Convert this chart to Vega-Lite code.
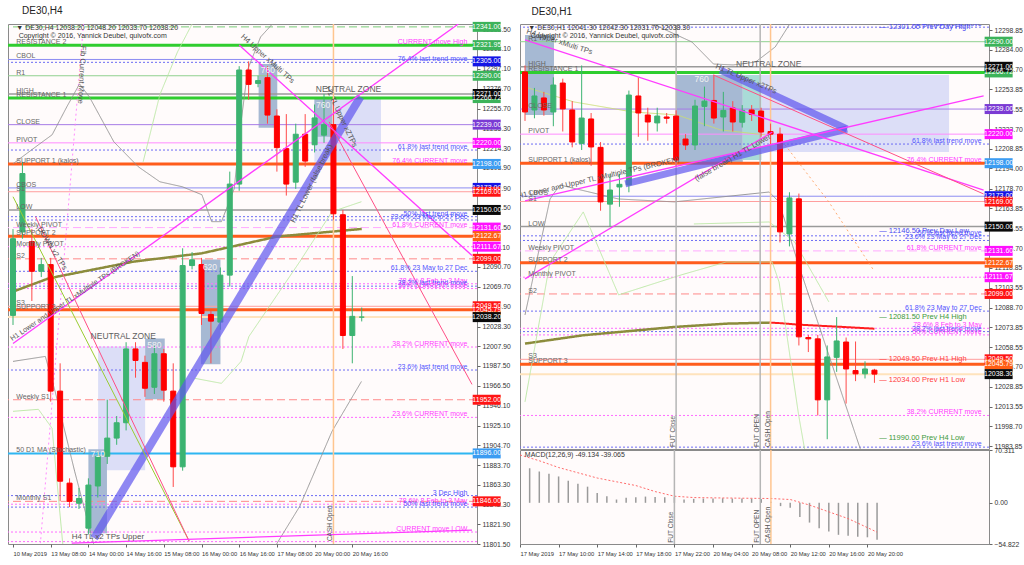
{
"$schema":"https://vega.github.io/schema/vega-lite/v6.json",
"background":"#ffffff",
"padding":{"left":7,"top":5,"right":0,"bottom":0},
"bounds":"flush",
"spacing":43,
"resolve":{"scale":{"color":"independent"}},
"config":{
 "view":{"stroke":"#8a8a8a","fill":"#fffbfb","strokeWidth":1},
 "font":"Liberation Sans",
 "axis":{"labelFont":"Liberation Sans"},
 "title":{"font":"Liberation Sans"},
 "text":{"font":"Liberation Sans"}
},
"datasets":{
 "c4":[
  {"x":0,"o":12040,"h":12130,"l":12030,"c":12120},
  {"x":1,"o":12127,"h":12200,"l":12120,"c":12188},
  {"x":2,"o":12117,"h":12130,"l":12055,"c":12086},
  {"x":3,"o":12086,"h":12100,"l":12080,"c":12093},
  {"x":4,"o":12093,"h":12100,"l":11950,"c":11961},
  {"x":5,"o":11961,"h":11990,"l":11846,"c":11867},
  {"x":6,"o":11865,"h":11870,"l":11840,"c":11846},
  {"x":7,"o":11844,"h":11860,"l":11838,"c":11849},
  {"x":8,"o":11818,"h":11870,"l":11812,"c":11863},
  {"x":9,"o":11862,"h":11898,"l":11850,"c":11893},
  {"x":10,"o":11893,"h":11952,"l":11885,"c":11912},
  {"x":11,"o":11912,"h":11935,"l":11905,"c":11928},
  {"x":12,"o":11928,"h":12012,"l":11920,"c":12005},
  {"x":13,"o":12005,"h":12012,"l":11975,"c":11993},
  {"x":14,"o":11991,"h":11998,"l":11955,"c":11964},
  {"x":15,"o":11965,"h":12008,"l":11958,"c":12000},
  {"x":16,"o":12000,"h":12005,"l":11950,"c":11962},
  {"x":17,"o":11961,"h":11990,"l":11861,"c":11882},
  {"x":18,"o":11882,"h":12110,"l":11878,"c":12092},
  {"x":19,"o":12092,"h":12106,"l":12088,"c":12098},
  {"x":20,"o":12093,"h":12100,"l":12030,"c":12042},
  {"x":21,"o":12041,"h":12045,"l":11990,"c":12034},
  {"x":22,"o":12033,"h":12090,"l":12025,"c":12082},
  {"x":23,"o":12082,"h":12190,"l":12070,"c":12177},
  {"x":24,"o":12177,"h":12300,"l":12170,"c":12296},
  {"x":25,"o":12296,"h":12305,"l":12265,"c":12281},
  {"x":26,"o":12282,"h":12290,"l":12278,"c":12285},
  {"x":27,"o":12288,"h":12300,"l":12240,"c":12249},
  {"x":28,"o":12248,"h":12255,"l":12190,"c":12215},
  {"x":29,"o":12214,"h":12250,"l":12165,"c":12177},
  {"x":30,"o":12179,"h":12240,"l":12172,"c":12229},
  {"x":31,"o":12229,"h":12250,"l":12195,"c":12201},
  {"x":32,"o":12218,"h":12260,"l":12210,"c":12246},
  {"x":33,"o":12228,"h":12271,"l":12220,"c":12239},
  {"x":34,"o":12239,"h":12265,"l":12140,"c":12146},
  {"x":35,"o":12145,"h":12150,"l":12005,"c":12019},
  {"x":36,"o":12019,"h":12081,"l":11990,"c":12039},
  {"x":37,"o":12038.2,"h":12048.2,"l":12033.7,"c":12038.2}
 ],
 "c1":[
  {"x":0,"o":12267.1,"h":12272,"l":12230,"c":12236.8},
  {"x":1,"o":12238.3,"h":12255,"l":12232,"c":12248.9},
  {"x":2,"o":12247.4,"h":12252,"l":12234,"c":12238.3},
  {"x":3,"o":12236.8,"h":12263,"l":12226,"c":12257.2},
  {"x":4,"o":12258.7,"h":12262,"l":12222,"c":12239.1},
  {"x":5,"o":12238.3,"h":12245,"l":12210,"c":12214.1},
  {"x":6,"o":12213,"h":12272,"l":12208,"c":12232.2},
  {"x":7,"o":12231.5,"h":12236,"l":12196,"c":12210.3},
  {"x":8,"o":12210,"h":12214,"l":12162,"c":12168.7},
  {"x":9,"o":12167,"h":12190,"l":12150,"c":12177.7},
  {"x":10,"o":12180,"h":12190,"l":12165,"c":12182},
  {"x":11,"o":12181.5,"h":12253,"l":12176,"c":12249.6},
  {"x":12,"o":12248.9,"h":12263,"l":12218,"c":12236},
  {"x":13,"o":12234.5,"h":12240,"l":12215,"c":12229.2},
  {"x":14,"o":12228.5,"h":12240,"l":12222,"c":12233.7},
  {"x":15,"o":12233,"h":12236,"l":12228,"c":12232},
  {"x":16,"o":12233.7,"h":12238,"l":12196,"c":12200.4},
  {"x":17,"o":12216.3,"h":12220,"l":12208,"c":12211.8},
  {"x":18,"o":12211.8,"h":12246,"l":12208,"c":12241.3},
  {"x":19,"o":12241,"h":12256,"l":12226,"c":12245},
  {"x":20,"o":12245.5,"h":12265,"l":12228,"c":12232.2},
  {"x":21,"o":12233,"h":12252,"l":12222,"c":12238},
  {"x":22,"o":12239.8,"h":12245,"l":12222,"c":12229.2},
  {"x":23,"o":12229,"h":12242,"l":12225,"c":12238},
  {"x":24,"o":12238.3,"h":12242,"l":12230,"c":12235},
  {"x":25,"o":12237.5,"h":12240,"l":12218,"c":12221.6},
  {"x":26,"o":12222,"h":12228,"l":12212,"c":12220},
  {"x":27,"o":12220,"h":12225,"l":12138,"c":12146},
  {"x":28,"o":12144.4,"h":12176,"l":12135,"c":12171.7},
  {"x":29,"o":12171,"h":12175,"l":12060,"c":12066.5},
  {"x":30,"o":12066,"h":12068,"l":12055,"c":12065},
  {"x":31,"o":12065,"h":12068,"l":12007,"c":12018.8},
  {"x":32,"o":12018.8,"h":12060,"l":11989,"c":12051.3},
  {"x":33,"o":12051,"h":12081.5,"l":12040,"c":12063.4},
  {"x":34,"o":12062.6,"h":12066,"l":12016,"c":12042.2},
  {"x":35,"o":12041,"h":12063,"l":12033,"c":12038.5},
  {"x":36,"o":12038.5,"h":12048,"l":12035,"c":12042.2},
  {"x":37,"o":12041.3,"h":12042.3,"l":12031.7,"c":12038.3}
 ],
 "lv":[
  {"pan":"L","p":12341,"ls":"gdash"},
  {"pan":"L","p":12321.95,"ls":"res","name":"RESISTANCE 2","note":"CURRENT move High","nc":"m"},
  {"pan":"L","p":12307,"ls":"cb","name":"CBOL"},
  {"pan":"L","p":12304,"ls":"fb","note":"76.4% last trend move","nc":"b"},
  {"pan":"R","p":12301,"ls":"fb","note":"76.4% last trend move","nc":"b"},
  {"pan":"B","p":12290,"ls":"r1","name":"R1"},
  {"pan":"B","p":12271,"ls":"hl","name":"HIGH"},
  {"pan":"B","p":12266.72,"ls":"res","name":"RESISTANCE 1"},
  {"pan":"B","p":12239,"ls":"close","name":"CLOSE"},
  {"pan":"B","p":12220,"ls":"piv","name":"PIVOT"},
  {"pan":"B","p":12212.5,"ls":"fb","note":"61.8% last trend move","nc":"b"},
  {"pan":"B","p":12198,"ls":"sup","name":"SUPPORT 1 (kalos)","note":"76.4% CURRENT move","nc":"m"},
  {"pan":"B","p":12173,"ls":"cb","name":"CBOS"},
  {"pan":"B","p":12169,"ls":"s","name":"S1"},
  {"pan":"B","p":12150,"ls":"hl","name":"LOW"},
  {"pan":"B","p":12143,"ls":"fb","note":"50%   last trend move","nc":"b"},
  {"pan":"B","p":12139.5,"ls":"fb","note":"23.6%  23 May to 27 Dec","nc":"b"},
  {"pan":"B","p":12131.6,"ls":"wpiv","name":"Weekly PIVOT","note":"61.8% CURRENT move","nc":"m"},
  {"pan":"B","p":12122.67,"ls":"sup","name":"SUPPORT 2"},
  {"pan":"B","p":12111.67,"ls":"mpiv","name":"Monthly PIVOT"},
  {"pan":"B","p":12099,"ls":"sdash","name":"S2"},
  {"pan":"B","p":12086,"ls":"fb","note":"61.8%  23 May to 27 Dec","nc":"b"},
  {"pan":"B","p":12073,"ls":"fm","note":"78.6%  8 Feb to 3 May","nc":"m"},
  {"pan":"B","p":12070.5,"ls":"fb","note":"38.2% last trend move","nc":"b"},
  {"pan":"B","p":12068,"ls":"fm","note":"50%  CURRENT move","nc":"m"},
  {"pan":"B","p":12049.5,"ls":"s","name":"S3"},
  {"pan":"B","p":12045.79,"ls":"sup","name":"SUPPORT 3"},
  {"pan":"B","p":12038.25,"ls":"px"},
  {"pan":"B","p":12007,"ls":"fm","note":"38.2%  CURRENT move","nc":"m"},
  {"pan":"B","p":11983,"ls":"fb","note":"23.6% last trend move","nc":"b"},
  {"pan":"L","p":11952,"ls":"sdash","name":"Weekly S1"},
  {"pan":"L","p":11933.6,"ls":"fm","note":"23.6%  CURRENT move","nc":"m"},
  {"pan":"L","p":11896,"ls":"ma","name":"50 D1 MA (Stochastic)"},
  {"pan":"L","p":11852,"ls":"fb","note":"3 Dec High","nc":"b"},
  {"pan":"L","p":11846,"ls":"sdash","name":"Monthly S1"},
  {"pan":"L","p":11843,"ls":"fm","note":"78.6%  8 Feb to 3 May","nc":"m"},
  {"pan":"L","p":11840,"ls":"fb","note":"50%  last trend move","nc":"b"},
  {"pan":"L","p":11814,"ls":"fm","note":"CURRENT move LOW","nc":"m"},
  {"pan":"L","p":11804,"ls":"fm"}
 ],
 "tg":[
  {"pan":"L","p":12341,"tc":"g","t":"12341.00"},
  {"pan":"L","p":12321.95,"tc":"g","t":"12321.95"},
  {"pan":"L","p":12305,"tc":"db","t":"12305.00"},
  {"pan":"L","p":12290,"tc":"g","t":"12290.00"},
  {"pan":"L","p":12266.72,"tc":"g","t":"12266.72"},
  {"pan":"L","p":12271,"tc":"k","t":"12271.00"},
  {"pan":"L","p":12239,"tc":"pu","t":"12239.00"},
  {"pan":"L","p":12220,"tc":"mg","t":"12220.00"},
  {"pan":"L","p":12198,"tc":"lb","t":"12198.00"},
  {"pan":"L","p":12173,"tc":"db","t":"12173.00"},
  {"pan":"L","p":12169,"tc":"r","t":"12169.00"},
  {"pan":"L","p":12150,"tc":"k","t":"12150.00"},
  {"pan":"L","p":12131.6,"tc":"mg","t":"12131.60"},
  {"pan":"L","p":12122.67,"tc":"or","t":"12122.67"},
  {"pan":"L","p":12111.67,"tc":"mg","t":"12111.67"},
  {"pan":"L","p":12099,"tc":"r","t":"12099.00"},
  {"pan":"L","p":12045.79,"tc":"or","t":"12045.79"},
  {"pan":"L","p":12049.5,"tc":"r","t":"12049.50"},
  {"pan":"L","p":12038.2,"tc":"k","t":"12038.20"},
  {"pan":"L","p":11952,"tc":"r","t":"11952.00"},
  {"pan":"L","p":11896,"tc":"lb","t":"11896.00"},
  {"pan":"L","p":11846,"tc":"r","t":"11846.00"},
  {"pan":"R","p":12290,"tc":"g","t":"12290.00"},
  {"pan":"R","p":12266.72,"tc":"g","t":"12266.72"},
  {"pan":"R","p":12271,"tc":"k","t":"12271.00"},
  {"pan":"R","p":12239,"tc":"pu","t":"12239.00"},
  {"pan":"R","p":12220,"tc":"mg","t":"12220.00"},
  {"pan":"R","p":12198,"tc":"lb","t":"12198.00"},
  {"pan":"R","p":12173,"tc":"db","t":"12173.00"},
  {"pan":"R","p":12169,"tc":"r","t":"12169.00"},
  {"pan":"R","p":12150,"tc":"k","t":"12150.00"},
  {"pan":"R","p":12131.6,"tc":"mg","t":"12131.60"},
  {"pan":"R","p":12122.67,"tc":"or","t":"12122.67"},
  {"pan":"R","p":12111.67,"tc":"mg","t":"12111.67"},
  {"pan":"R","p":12099,"tc":"r","t":"12099.00"},
  {"pan":"R","p":12049.5,"tc":"r","t":"12049.50"},
  {"pan":"R","p":12045.79,"tc":"or","t":"12045.79"},
  {"pan":"R","p":12038.3,"tc":"k","t":"12038.30"}
 ],
 "bx":[
  {"pan":"L","x":9.03,"x2":14.02,"p":12007.6,"p2":11878.4,"k":"zone"},
  {"pan":"L","x":14.02,"x2":16.1,"p":12015.9,"p2":11952.4,"k":"blk"},
  {"pan":"L","x":8.0,"x2":9.97,"p":11900.3,"p2":11812.8,"k":"blk"},
  {"pan":"L","x":19.94,"x2":22.01,"p":12098.2,"p2":11988.9,"k":"blk"},
  {"pan":"L","x":26.06,"x2":28.04,"p":12302.3,"p2":12235.7,"k":"blk"},
  {"pan":"L","x":31.98,"x2":39.04,"p":12265.9,"p2":12200.3,"k":"zone"},
  {"pan":"L","x":31.98,"x2":33.85,"p":12265.9,"p2":12226.3,"k":"blk"},
  {"pan":"R","x":0,"x2":3.07,"p":12295.1,"p2":12234.5,"k":"blk"},
  {"pan":"R","x":25.03,"x2":44.9,"p":12264.8,"p2":12206.5,"k":"zone"},
  {"pan":"R","x":16.02,"x2":23.06,"p":12264.8,"p2":12198.9,"k":"blk"},
  {"pan":"R","x":23.06,"x2":25.03,"p":12264.8,"p2":12200.4,"k":"teal"}
 ],
 "bl":[
  {"pan":"L","x":27.05,"p":12296,"t":"760","bk":"num"},
  {"pan":"L","x":32.9,"p":12259.6,"t":"760","bk":"num"},
  {"pan":"L","x":20.9,"p":12091,"t":"620","bk":"num"},
  {"pan":"L","x":15.0,"p":12009,"t":"580","bk":"num"},
  {"pan":"L","x":9.0,"p":11895,"t":"710","bk":"num"},
  {"pan":"L","x":11.7,"p":12018,"t":"NEUTRAL ZONE","bk":"nz"},
  {"pan":"L","x":35.6,"p":12276,"t":"NEUTRAL ZONE","bk":"nz"},
  {"pan":"R","x":18.7,"p":12261.8,"t":"760","bk":"num"},
  {"pan":"R","x":25.8,"p":12273.1,"t":"NEUTRAL ZONE","bk":"nz"}
 ],
 "vl":[
  {"pan":"L","x":34,"vs":"cash"},
  {"pan":"R","x":16,"vs":"fut"},
  {"pan":"R","x":24.9,"vs":"fut"},
  {"pan":"R","x":26,"vs":"cash"}
 ],
 "ln":[
  {"pan":"L","id":"Lb","sty":"band","k":0,"x":8.62,"p":11807.6},
  {"pan":"L","id":"Lb","sty":"band","k":1,"x":36.86,"p":12268.0},
  {"pan":"L","id":"Lm1","sty":"mag","k":0,"x":0,"p":12010.7},
  {"pan":"L","id":"Lm1","sty":"mag","k":1,"x":47.25,"p":12344},
  {"pan":"L","id":"Lm2","sty":"mag","k":0,"x":23.99,"p":12322.1},
  {"pan":"L","id":"Lm2","sty":"mag","k":1,"x":48.7,"p":12102.4},
  {"pan":"L","id":"Lp1","sty":"pink","k":0,"x":33.54,"p":12241.9},
  {"pan":"L","id":"Lp1","sty":"pink","k":1,"x":48.7,"p":11968.0},
  {"pan":"L","id":"Lo1","sty":"olive","k":0,"x":0,"p":12163.8},
  {"pan":"L","id":"Lo1","sty":"olive","k":1,"x":18.69,"p":11804.5},
  {"pan":"L","id":"Lp2","sty":"pink","k":0,"x":2.39,"p":12143.0},
  {"pan":"L","id":"Lp2","sty":"pink","k":1,"x":18.69,"p":11804.5},
  {"pan":"L","id":"Lm3","sty":"mag","k":0,"x":6.23,"p":11802.4},
  {"pan":"L","id":"Lm3","sty":"mag","k":1,"x":48.7,"p":11816.0},
  {"pan":"L","id":"Lf","sty":"fibv","k":0,"x":7.48,"p":12344},
  {"pan":"L","id":"Lf","sty":"fibv","k":1,"x":2.91,"p":11802.4},
  {"pan":"L","id":"Lma","sty":"ma200","k":0,"x":0.03,"p":12064.9},
  {"pan":"L","id":"Lma","sty":"ma200","k":1,"x":3.8,"p":12078.7},
  {"pan":"L","id":"Lma","sty":"ma200","k":2,"x":12.8,"p":12096.1},
  {"pan":"L","id":"Lma","sty":"ma200","k":3,"x":20.04,"p":12104.8},
  {"pan":"L","id":"Lma","sty":"ma200","k":4,"x":28.0,"p":12122.2},
  {"pan":"L","id":"Lma","sty":"ma200","k":5,"x":37.0,"p":12130.2},
  {"pan":"L","id":"Lg1","sty":"thin","k":0,"x":0,"p":12198.2},
  {"pan":"L","id":"Lg1","sty":"thin","k":1,"x":2.7,"p":12218.0},
  {"pan":"L","id":"Lg1","sty":"thin","k":2,"x":4.15,"p":12228.4},
  {"pan":"L","id":"Lg1","sty":"thin","k":3,"x":5.71,"p":12257.6},
  {"pan":"L","id":"Lg1","sty":"thin","k":4,"x":7.06,"p":12281.5},
  {"pan":"L","id":"Lg1","sty":"thin","k":5,"x":8.1,"p":12268.0},
  {"pan":"L","id":"Lg1","sty":"thin","k":6,"x":10.7,"p":12221.1},
  {"pan":"L","id":"Lg1","sty":"thin","k":7,"x":13.29,"p":12195.1},
  {"pan":"L","id":"Lg1","sty":"thin","k":8,"x":15.58,"p":12179.4},
  {"pan":"L","id":"Lg1","sty":"thin","k":9,"x":17.96,"p":12174.2},
  {"pan":"L","id":"Lg1","sty":"thin","k":10,"x":20.04,"p":12165.9},
  {"pan":"L","id":"Lg1","sty":"thin","k":11,"x":21.08,"p":12137.8},
  {"pan":"L","id":"Lg1","sty":"thin","k":12,"x":22.12,"p":12137.8},
  {"pan":"L","id":"Lg1","sty":"thin","k":13,"x":23.47,"p":12172.1},
  {"pan":"L","id":"Lg1","sty":"thin","k":14,"x":24.2,"p":12241.9},
  {"pan":"L","id":"Lg1","sty":"thin","k":15,"x":24.92,"p":12297.1},
  {"pan":"L","id":"Lg1","sty":"thin","k":16,"x":26.27,"p":12330.5},
  {"pan":"L","id":"Lg1","sty":"thin","k":17,"x":27.52,"p":12344},
  {"pan":"L","id":"Lg2","sty":"thin","k":0,"x":0,"p":11992.0},
  {"pan":"L","id":"Lg2","sty":"thin","k":1,"x":3.43,"p":11997.2},
  {"pan":"L","id":"Lg2","sty":"thin","k":2,"x":4.47,"p":11960.7},
  {"pan":"L","id":"Lg2","sty":"thin","k":3,"x":6.54,"p":11877.4},
  {"pan":"L","id":"Lg2","sty":"thin","k":4,"x":8.62,"p":11799.3},
  {"pan":"L","id":"Lg3","sty":"thin","k":0,"x":27.83,"p":11799.3},
  {"pan":"L","id":"Lg3","sty":"thin","k":1,"x":30.43,"p":11840.9},
  {"pan":"L","id":"Lg3","sty":"thin","k":2,"x":33.85,"p":11919.1},
  {"pan":"L","id":"Lg3","sty":"thin","k":3,"x":36.97,"p":11971.1},
  {"pan":"L","id":"Lq1","sty":"lg","k":0,"x":19.31,"p":11974.3},
  {"pan":"L","id":"Lq1","sty":"lg","k":1,"x":22.12,"p":11969.1},
  {"pan":"L","id":"Lq1","sty":"lg","k":2,"x":24.2,"p":11992.0},
  {"pan":"L","id":"Lq1","sty":"lg","k":3,"x":25.03,"p":12018.0},
  {"pan":"L","id":"Lq1","sty":"lg","k":4,"x":30.43,"p":12096.1},
  {"pan":"L","id":"Lq1","sty":"lg","k":5,"x":33.85,"p":12148.2},
  {"pan":"L","id":"Lq1","sty":"lg","k":6,"x":36.97,"p":12158.6},
  {"pan":"L","id":"Lq2","sty":"lg","k":0,"x":0,"p":11939.9},
  {"pan":"L","id":"Lq2","sty":"lg","k":1,"x":2.7,"p":11942.0},
  {"pan":"L","id":"Lq2","sty":"lg","k":2,"x":4.15,"p":11922.2},
  {"pan":"L","id":"Lq2","sty":"lg","k":3,"x":5.3,"p":11799.3},
  {"pan":"L","id":"Lq3","sty":"lg","k":0,"x":13.81,"p":12200.3},
  {"pan":"L","id":"Lq3","sty":"lg","k":1,"x":15.58,"p":12270.1},
  {"pan":"L","id":"Lq3","sty":"lg","k":2,"x":17.45,"p":12314.8},
  {"pan":"L","id":"Lq3","sty":"lg","k":3,"x":19.0,"p":12344},
  {"pan":"R","id":"Rb1","sty":"band","k":0,"x":10.62,"p":12182.3},
  {"pan":"R","id":"Rb1","sty":"band","k":1,"x":34.1,"p":12223.9},
  {"pan":"R","id":"Rb2","sty":"band","k":0,"x":20.67,"p":12268.6},
  {"pan":"R","id":"Rb2","sty":"band","k":1,"x":34.1,"p":12223.9},
  {"pan":"R","id":"Rm1","sty":"mag","k":0,"x":0,"p":12291.3},
  {"pan":"R","id":"Rm1","sty":"mag","k":1,"x":48.56,"p":12177.7},
  {"pan":"R","id":"Rm2","sty":"mag","k":0,"x":0,"p":12169.4},
  {"pan":"R","id":"Rm2","sty":"mag","k":1,"x":48.56,"p":12248.9},
  {"pan":"R","id":"Rm3","sty":"mag","k":0,"x":0,"p":12110.4},
  {"pan":"R","id":"Rm3","sty":"mag","k":1,"x":26.2,"p":12221.6},
  {"pan":"R","id":"Rp1","sty":"pink","k":0,"x":19.95,"p":12264.8},
  {"pan":"R","id":"Rp1","sty":"pink","k":1,"x":48.56,"p":12174.7},
  {"pan":"R","id":"Rma","sty":"ma200","k":0,"x":0,"p":12061.4},
  {"pan":"R","id":"Rma","sty":"ma200","k":1,"x":6.15,"p":12067.7},
  {"pan":"R","id":"Rma","sty":"ma200","k":2,"x":15.82,"p":12074.0},
  {"pan":"R","id":"Rma","sty":"ma200","k":3,"x":21.3,"p":12076.5},
  {"pan":"R","id":"Rma","sty":"ma200","k":4,"x":25.9,"p":12077.3},
  {"pan":"R","id":"Rmr","sty":"ma200r","k":0,"x":25.9,"p":12077.3},
  {"pan":"R","id":"Rmr","sty":"ma200r","k":1,"x":26.8,"p":12077.0},
  {"pan":"R","id":"Rmr","sty":"ma200r","k":2,"x":28.9,"p":12075.8},
  {"pan":"R","id":"Rmr","sty":"ma200r","k":3,"x":33.7,"p":12074.0},
  {"pan":"R","id":"Rmr","sty":"ma200r","k":4,"x":37.0,"p":12072.7},
  {"pan":"R","id":"Rgu","sty":"thin","k":0,"x":13.53,"p":12303.4},
  {"pan":"R","id":"Rgu","sty":"thin","k":1,"x":17.67,"p":12289.8},
  {"pan":"R","id":"Rgu","sty":"thin","k":2,"x":19.96,"p":12273.1},
  {"pan":"R","id":"Rgu","sty":"thin","k":3,"x":22.03,"p":12272.4},
  {"pan":"R","id":"Rgu","sty":"thin","k":4,"x":24.41,"p":12274.6},
  {"pan":"R","id":"Rgu","sty":"thin","k":5,"x":26.49,"p":12286.0},
  {"pan":"R","id":"Rgu","sty":"thin","k":6,"x":28.03,"p":12303.4},
  {"pan":"R","id":"Rgl","sty":"thin","k":0,"x":0,"p":12083.1},
  {"pan":"R","id":"Rgl","sty":"thin","k":1,"x":2.65,"p":12170.9},
  {"pan":"R","id":"Rgl","sty":"thin","k":2,"x":3.69,"p":12181.5},
  {"pan":"R","id":"Rgl","sty":"thin","k":3,"x":9.91,"p":12170.9},
  {"pan":"R","id":"Rgl","sty":"thin","k":4,"x":15.8,"p":12168.7},
  {"pan":"R","id":"Rgl","sty":"thin","k":5,"x":25.86,"p":12176.2},
  {"pan":"R","id":"Rgl","sty":"thin","k":6,"x":26.89,"p":12168.7},
  {"pan":"R","id":"Rgl","sty":"thin","k":7,"x":28.97,"p":12121.0},
  {"pan":"R","id":"Rgl","sty":"thin","k":8,"x":35.5,"p":11981.7},
  {"pan":"R","id":"RqA","sty":"lg","k":0,"x":0,"p":12017.3},
  {"pan":"R","id":"RqA","sty":"lg","k":1,"x":2.65,"p":12123.2},
  {"pan":"R","id":"RqA","sty":"lg","k":2,"x":6.17,"p":12161.1},
  {"pan":"R","id":"RqA","sty":"lg","k":3,"x":9.91,"p":12098.3},
  {"pan":"R","id":"RqA","sty":"lg","k":4,"x":16.53,"p":12113.4},
  {"pan":"R","id":"RqA","sty":"lg","k":5,"x":21.3,"p":12123.2},
  {"pan":"R","id":"RqA","sty":"lg","k":6,"x":26.17,"p":12123.2},
  {"pan":"R","id":"RqA","sty":"lg","k":7,"x":26.9,"p":12108.1},
  {"pan":"R","id":"RqA","sty":"lg","k":8,"x":28.97,"p":12007.4},
  {"pan":"R","id":"RqA","sty":"lg","k":9,"x":29.6,"p":11981.7},
  {"pan":"R","id":"RqB","sty":"lg","k":0,"x":17.88,"p":12152.0},
  {"pan":"R","id":"RqB","sty":"lg","k":1,"x":25.86,"p":12153.5},
  {"pan":"R","id":"RqB","sty":"lg","k":2,"x":28.55,"p":12138.4},
  {"pan":"R","id":"RqB","sty":"lg","k":3,"x":32.17,"p":12093.0},
  {"pan":"R","id":"RqC","sty":"ma1","k":0,"x":0,"p":12255.7},
  {"pan":"R","id":"RqC","sty":"ma1","k":1,"x":5.18,"p":12244.4},
  {"pan":"R","id":"RqC","sty":"ma1","k":2,"x":11.39,"p":12236.8},
  {"pan":"R","id":"RqC","sty":"ma1","k":3,"x":16.14,"p":12234.5},
  {"pan":"R","id":"RqC","sty":"ma1","k":4,"x":20.7,"p":12223.2},
  {"pan":"R","id":"RqC","sty":"ma1","k":5,"x":25.46,"p":12219.4},
  {"pan":"R","id":"Rod","sty":"od","k":0,"x":26.89,"p":12217.9},
  {"pan":"R","id":"Rod","sty":"od","k":1,"x":32.17,"p":12168.7},
  {"pan":"R","id":"Rod","sty":"od","k":2,"x":36.83,"p":12117.9}
 ],
 "mc":[
  {"x":1,"h":46},{"x":2,"h":41.7},{"x":3,"h":38.6},{"x":4,"h":35.1},{"x":5,"h":29.4},
  {"x":6,"h":25.5},{"x":7,"h":21.5},{"x":8,"h":13.2},{"x":9,"h":8.8},{"x":10,"h":4.4},
  {"x":11,"h":6.6},{"x":12,"h":7.5},{"x":13,"h":8.3},{"x":14,"h":7.9},{"x":15,"h":7.5},
  {"x":16,"h":7.5},{"x":17,"h":4.4},{"x":18,"h":5.3},{"x":19,"h":5.7},{"x":20,"h":5.7},
  {"x":21,"h":6.1},{"x":22,"h":5.7},{"x":23,"h":5.7},{"x":24,"h":5.7},{"x":25,"h":5.0},
  {"x":26,"h":1.5},{"x":27,"h":-4.4},{"x":28,"h":-6.6},{"x":29,"h":-18.9},{"x":30,"h":-26.3},
  {"x":31,"h":-33.8},{"x":32,"h":-38.2},{"x":33,"h":-42.6},{"x":34,"h":-43.9},{"x":35,"h":-45.2},
  {"x":36,"h":-45.9},{"x":37,"h":-49.134}
 ],
 "sg":[
  {"x":0,"s":63.7},{"x":2,"s":56},{"x":4,"s":47},{"x":6,"s":40},{"x":8,"s":33},
  {"x":10,"s":28},{"x":12,"s":23},{"x":14,"s":15},{"x":16,"s":8.8},{"x":18,"s":7},
  {"x":20,"s":6.6},{"x":24,"s":6},{"x":26,"s":5.7},{"x":28,"s":4.4},{"x":30,"s":-3},
  {"x":32,"s":-12},{"x":34,"s":-21},{"x":36,"s":-33},{"x":37,"s":-39.065}
 ]
},
"hconcat":[
 {
  "width":469,"height":520,
  "title":{"text":"DE30,H4","anchor":"start","fontSize":10,"fontWeight":"normal","color":"#222","dx":14,"offset":6},
  "resolve":{"scale":{"color":"independent"}},
  "layer":[
   {"data":{"name":"bx"},"transform":[{"filter":"datum.pan=='L'"}],
    "mark":{"type":"rect","clip":true},
    "encoding":{
     "x":{"field":"x","type":"quantitative","title":null,"scale":{"domain":[0,48.7],"nice":false,"zero":false},
      "axis":{"orient":"bottom","values":[0,4,8,12,16,20,24,28,32,36],"tickCount":40,"labelExpr":"['10 May 2019','13 May 08:00','14 May 00:00','14 May 16:00','15 May 08:00','16 May 00:00','16 May 16:00','17 May 08:00','20 May 00:00','20 May 16:00'][round(datum.value/4)]","labelAlign":"left","labelBaseline":"top","labelFontSize":5.8,"labelColor":"#333","labelPadding":3,"tickSize":3,"tickColor":"#666","domain":false,"grid":false,"labelOverlap":false,"labelFlush":false,"title":null}},
     "x2":{"field":"x2"},
     "y":{"field":"p","type":"quantitative","title":null,"scale":{"domain":[11801.5,12344],"nice":false,"zero":false},
      "axis":{"orient":"right","values":[11801.5,11821.9,11842.3,11863.3,11883.7,11904.7,11925.1,11946.1,11966.5,11987.5,12007.9,12028.3,12048.9,12069.7,12090.7,12111.1,12131.5,12152.5,12172.9,12193.9,12214.3,12235.3,12255.7,12276.7,12297.1,12318.1,12338.5],"tickCount":60,"format":".2f","labelFontSize":6.8,"labelColor":"#333","labelPadding":2,"tickSize":3,"tickColor":"#666","domain":false,"grid":false,"labelOverlap":false,"title":null}},
     "y2":{"field":"p2"},
     "color":{"field":"k","type":"nominal","scale":{"domain":["zone","blk","teal"],"range":["#dcdef7","#a6b9d3","#a9dbd7"]},"legend":null}
    }},
   {"data":{"name":"lv"},"transform":[{"filter":"datum.pan!='R'"}],
    "mark":{"type":"rule","clip":true},
    "encoding":{
     "y":{"field":"p","type":"quantitative"},
     "color":{"field":"ls","type":"nominal","scale":{"domain":["res","r1","gdash","hl","cb","close","piv","sup","s","sdash","wpiv","mpiv","fb","fm","ma","px"],"range":["#2fcd2f","#8fd08f","#79cc79","#9a9a9a","#8c8cf2","#a77ce6","#ff8cff","#ff5c1c","#ff9e9e","#ff8a8a","#ffaaff","#ff70ff","#6c6cf4","#ff6cff","#2eb6f2","#ffe3bd"]},"legend":null},
     "strokeWidth":{"condition":[{"test":"datum.ls=='res' || datum.ls=='sup'","value":3},{"test":"datum.ls=='ma' || datum.ls=='px'","value":2},{"test":"datum.ls=='hl'","value":1.5}],"value":1},
     "strokeDash":{"condition":[{"test":"datum.ls=='gdash' || datum.ls=='sdash' || datum.ls=='wpiv'","value":[8,4]},{"test":"datum.ls=='mpiv' || datum.ls=='fb' || datum.ls=='fm'","value":[2,2]}],"value":[1,0]}
    }},
   {"data":{"name":"ln"},"transform":[{"filter":"datum.pan=='L' && datum.sty!='band' && datum.sty!='mag' && datum.sty!='pink' && datum.sty!='olive'"}],
    "mark":{"type":"line","clip":true},
    "encoding":{
     "x":{"field":"x","type":"quantitative"},
     "y":{"field":"p","type":"quantitative"},
     "color":{"field":"sty","type":"nominal","scale":{"domain":["fibv","ma200","ma200r","thin","lg","ma1","od"],"range":["#ff7cff","#8c8c3c","#ff1e1e","#8f8f8f","#b8e6a0","#c9dd70","#ffa060"]},"legend":null},
     "strokeWidth":{"condition":[{"test":"datum.sty=='ma200'","value":2.5},{"test":"datum.sty=='ma200r'","value":2}],"value":0.9},
     "strokeDash":{"condition":{"test":"datum.sty=='fibv' || datum.sty=='od'","value":[2,3]},"value":[1,0]},
     "detail":{"field":"id"},
     "order":{"field":"k","type":"quantitative"}
    }},
   {"data":{"name":"vl"},"transform":[{"filter":"datum.pan=='L'"}],
    "mark":{"type":"rule","strokeWidth":1.5},
    "encoding":{
     "x":{"field":"x","type":"quantitative"},
     "color":{"field":"vs","type":"nominal","scale":{"domain":["fut","cash"],"range":["#b5b5b5","#ffc58f"]},"legend":null}
    }},
   {"data":{"name":"c4"},
    "mark":{"type":"rule","clip":true},
    "encoding":{
     "x":{"field":"x","type":"quantitative"},
     "y":{"field":"l","type":"quantitative"},
     "y2":{"field":"h"},
     "color":{"condition":{"test":"datum.c >= datum.o","value":"#3cb371"},"value":"#ff4a4a"}
    }},
   {"data":{"name":"c4"},
    "mark":{"type":"bar","size":5,"clip":true,"strokeWidth":1},
    "encoding":{
     "x":{"field":"x","type":"quantitative"},
     "y":{"field":"o","type":"quantitative"},
     "y2":{"field":"c"},
     "fill":{"condition":{"test":"datum.c >= datum.o","value":"#3cb371"},"value":"#ff0000"},
     "stroke":{"condition":{"test":"datum.c >= datum.o","value":"#3cb371"},"value":"#ff0000"}
    }},
   {"data":{"name":"ln"},"transform":[{"filter":"datum.pan=='L' && (datum.sty=='band' || datum.sty=='mag' || datum.sty=='pink' || datum.sty=='olive')"}],
    "mark":{"type":"line","clip":true},
    "encoding":{
     "x":{"field":"x","type":"quantitative"},
     "y":{"field":"p","type":"quantitative"},
     "color":{"field":"sty","type":"nominal","scale":{"domain":["band","mag","pink","olive"],"range":["#5f55ee","#ff3cff","#ff4f86","#9acd32"]},"legend":null},
     "strokeWidth":{"condition":[{"test":"datum.sty=='band'","value":8},{"test":"datum.sty=='mag'","value":1.3}],"value":1},
     "opacity":{"condition":{"test":"datum.sty=='band'","value":0.7},"value":1},
     "detail":{"field":"id"},
     "order":{"field":"k","type":"quantitative"}
    }},
   {"data":{"name":"lv"},"transform":[{"filter":"datum.pan!='R' && isValid(datum.name)"}],
    "mark":{"type":"text","align":"left","baseline":"bottom","fontSize":7,"color":"#666","clip":true},
    "encoding":{
     "x":{"datum":0.35,"type":"quantitative"},
     "y":{"field":"p","type":"quantitative"},
     "text":{"field":"name"}
    }},
   {"data":{"name":"lv"},"transform":[{"filter":"datum.pan!='R' && isValid(datum.note)"}],
    "mark":{"type":"text","align":"right","baseline":"bottom","fontSize":7,"clip":true},
    "encoding":{
     "x":{"datum":48.2,"type":"quantitative"},
     "y":{"field":"p","type":"quantitative"},
     "text":{"field":"note"},
     "color":{"field":"nc","type":"nominal","scale":{"domain":["b","m"],"range":["#5252ff","#ff3cff"]},"legend":null}
    }},
   {"data":{"name":"bl"},"transform":[{"filter":"datum.pan=='L'"}],
    "mark":{"type":"text","fontSize":8.5,"baseline":"middle"},
    "encoding":{
     "x":{"field":"x","type":"quantitative"},
     "y":{"field":"p","type":"quantitative"},
     "text":{"field":"t"},
     "color":{"field":"bk","type":"nominal","scale":{"domain":["num","nz"],"range":["#f2f2f2","#5e5e5e"]},"legend":null}
    }},
   {"data":{"values":[{"x":27.0,"p":12307.5,"t":"H4 Upper xMulti TPs"}]},
    "mark":{"type":"text","angle":42,"fontSize":7.5,"color":"#555","clip":true},
    "encoding":{"x":{"field":"x","type":"quantitative"},"y":{"field":"p","type":"quantitative"},"text":{"field":"t"}}},
   {"data":{"values":[{"x":7.27,"p":12290.9,"t":"Fib Current Move"}]},
    "mark":{"type":"text","angle":93,"fontSize":7.5,"color":"#555","clip":true},
    "encoding":{"x":{"field":"x","type":"quantitative"},"y":{"field":"p","type":"quantitative"},"text":{"field":"t"}}},
   {"data":{"values":[{"x":34.8,"p":12247.1,"t":"H1 TL Upper xZTPs"}]},
    "mark":{"type":"text","angle":65,"fontSize":7.5,"color":"#555","clip":true},
    "encoding":{"x":{"field":"x","type":"quantitative"},"y":{"field":"p","type":"quantitative"},"text":{"field":"t"}}},
   {"data":{"values":[{"x":31.7,"p":12177.4,"t":"H1 TL Lower (false break)"}]},
    "mark":{"type":"text","angle":-64,"fontSize":7.5,"color":"#555","clip":true},
    "encoding":{"x":{"field":"x","type":"quantitative"},"y":{"field":"p","type":"quantitative"},"text":{"field":"t"}}},
   {"data":{"values":[{"x":6.6,"p":12060,"t":"H1 Lower and Upper TL xMultiple TPs (BROKEN)"}]},
    "mark":{"type":"text","angle":-34,"fontSize":7,"color":"#555","clip":true},
    "encoding":{"x":{"field":"x","type":"quantitative"},"y":{"field":"p","type":"quantitative"},"text":{"field":"t"}}},
   {"data":{"values":[{"x":4.15,"p":12109.7,"t":"DOWN x2 TPs"}]},
    "mark":{"type":"text","angle":58,"fontSize":7.5,"color":"#555","clip":true},
    "encoding":{"x":{"field":"x","type":"quantitative"},"y":{"field":"p","type":"quantitative"},"text":{"field":"t"}}},
   {"data":{"values":[{"x":34,"p":11804.5,"t":"CASH Open"}]},
    "mark":{"type":"text","angle":-90,"align":"left","baseline":"bottom","fontSize":6.5,"color":"#555","clip":true},
    "encoding":{"x":{"field":"x","type":"quantitative"},"y":{"field":"p","type":"quantitative"},"text":{"field":"t"}}},
   {"data":{"values":[{"x":6.23,"p":11808.7,"t":"H4 TL x2 TPs Upper"}]},
    "mark":{"type":"text","align":"left","baseline":"middle","fontSize":8,"color":"#555","clip":true},
    "encoding":{"x":{"field":"x","type":"quantitative"},"y":{"field":"p","type":"quantitative"},"text":{"field":"t"}}},
   {"data":{"values":[{"x":0.35,"p":12339.8,"t":"▼ DE30,H4  12038.20 12048.20 12033.70 12038.20"},{"x":0.6,"p":12331.5,"t":"Copyright © 2016, Yannick Deubel, quivofx.com"}]},
    "mark":{"type":"text","align":"left","baseline":"middle","fontSize":7,"color":"#333"},
    "encoding":{"x":{"field":"x","type":"quantitative"},"y":{"field":"p","type":"quantitative"},"text":{"field":"t"}}},
   {"data":{"name":"tg"},"transform":[{"filter":"datum.pan=='L'"}],
    "mark":{"type":"tick","orient":"horizontal","size":28,"thickness":10,"opacity":1},
    "encoding":{
     "x":{"datum":50.26,"type":"quantitative"},
     "y":{"field":"p","type":"quantitative"},
     "color":{"field":"tc","type":"nominal","scale":{"domain":["g","db","k","pu","mg","lb","r","or"],"range":["#3cb35a","#1414e6","#0a0a0a","#7a3bd4","#ff10ff","#3b9cf2","#ff1414","#ff5e14"]},"legend":null}
    }},
   {"data":{"name":"tg"},"transform":[{"filter":"datum.pan=='L'"}],
    "mark":{"type":"text","fontSize":7,"color":"#ffffff","baseline":"middle"},
    "encoding":{
     "x":{"datum":50.26,"type":"quantitative"},
     "y":{"field":"p","type":"quantitative"},
     "text":{"field":"t"}
    }}
  ]
 },
 {
  "title":{"text":"DE30,H1","anchor":"start","fontSize":10,"fontWeight":"normal","color":"#222","dx":14,"offset":6},
  "bounds":"flush",
  "spacing":1,
  "resolve":{"scale":{"color":"independent"}},
  "vconcat":[
   {
    "width":469,"height":425,
    "resolve":{"scale":{"color":"independent"}},
    "layer":[
     {"data":{"name":"bx"},"transform":[{"filter":"datum.pan=='R'"}],
      "mark":{"type":"rect","clip":true},
      "encoding":{
       "x":{"field":"x","type":"quantitative","title":null,"scale":{"domain":[0,48.6],"nice":false,"zero":false},"axis":null},
       "x2":{"field":"x2"},
       "y":{"field":"p","type":"quantitative","title":null,"scale":{"domain":[11981.6,12303.4],"nice":false,"zero":false},
        "axis":{"orient":"right","values":[11983.85,11998.7,12013.55,12028.85,12043.7,12058.55,12073.85,12088.7,12103.55,12118.85,12133.7,12148.55,12163.85,12178.7,12194,12208.85,12223.7,12238.55,12253.85,12268.7,12284,12298.85],"tickCount":60,"format":".2f","labelFontSize":6.8,"labelColor":"#333","labelPadding":2,"tickSize":3,"tickColor":"#666","domain":false,"grid":false,"labelOverlap":false,"title":null}},
       "y2":{"field":"p2"},
       "color":{"field":"k","type":"nominal","scale":{"domain":["zone","blk","teal"],"range":["#dcdef7","#a6b9d3","#a9dbd7"]},"legend":null}
      }},
     {"data":{"name":"lv"},"transform":[{"filter":"datum.pan!='L'"}],
      "mark":{"type":"rule","clip":true},
      "encoding":{
       "y":{"field":"p","type":"quantitative"},
       "color":{"field":"ls","type":"nominal","scale":{"domain":["res","r1","gdash","hl","cb","close","piv","sup","s","sdash","wpiv","mpiv","fb","fm","ma","px"],"range":["#2fcd2f","#8fd08f","#79cc79","#9a9a9a","#8c8cf2","#a77ce6","#ff8cff","#ff5c1c","#ff9e9e","#ff8a8a","#ffaaff","#ff70ff","#6c6cf4","#ff6cff","#2eb6f2","#ffe3bd"]},"legend":null},
       "strokeWidth":{"condition":[{"test":"datum.ls=='res' || datum.ls=='sup'","value":3},{"test":"datum.ls=='ma' || datum.ls=='px'","value":2},{"test":"datum.ls=='hl'","value":1.5}],"value":1},
       "strokeDash":{"condition":[{"test":"datum.ls=='gdash' || datum.ls=='sdash' || datum.ls=='wpiv'","value":[8,4]},{"test":"datum.ls=='mpiv' || datum.ls=='fb' || datum.ls=='fm'","value":[2,2]}],"value":[1,0]}
      }},
     {"data":{"name":"ln"},"transform":[{"filter":"datum.pan=='R' && datum.sty!='band' && datum.sty!='mag' && datum.sty!='pink' && datum.sty!='olive'"}],
      "mark":{"type":"line","clip":true},
      "encoding":{
       "x":{"field":"x","type":"quantitative"},
       "y":{"field":"p","type":"quantitative"},
       "color":{"field":"sty","type":"nominal","scale":{"domain":["fibv","ma200","ma200r","thin","lg","ma1","od"],"range":["#ff7cff","#8c8c3c","#ff1e1e","#8f8f8f","#b8e6a0","#c9dd70","#ffa060"]},"legend":null},
       "strokeWidth":{"condition":[{"test":"datum.sty=='ma200'","value":2.5},{"test":"datum.sty=='ma200r'","value":2}],"value":0.9},
       "strokeDash":{"condition":{"test":"datum.sty=='fibv' || datum.sty=='od'","value":[2,3]},"value":[1,0]},
       "detail":{"field":"id"},
       "order":{"field":"k","type":"quantitative"}
      }},
     {"data":{"name":"vl"},"transform":[{"filter":"datum.pan=='R'"}],
      "mark":{"type":"rule","strokeWidth":1.5},
      "encoding":{
       "x":{"field":"x","type":"quantitative"},
       "color":{"field":"vs","type":"nominal","scale":{"domain":["fut","cash"],"range":["#b5b5b5","#ffc58f"]},"legend":null}
      }},
     {"data":{"name":"c1"},
      "mark":{"type":"rule","clip":true},
      "encoding":{
       "x":{"field":"x","type":"quantitative"},
       "y":{"field":"l","type":"quantitative"},
       "y2":{"field":"h"},
       "color":{"condition":{"test":"datum.c >= datum.o","value":"#3cb371"},"value":"#ff4a4a"}
      }},
     {"data":{"name":"c1"},
      "mark":{"type":"bar","size":5,"clip":true,"strokeWidth":1},
      "encoding":{
       "x":{"field":"x","type":"quantitative"},
       "y":{"field":"o","type":"quantitative"},
       "y2":{"field":"c"},
       "fill":{"condition":{"test":"datum.c >= datum.o","value":"#3cb371"},"value":"#ff0000"},
       "stroke":{"condition":{"test":"datum.c >= datum.o","value":"#3cb371"},"value":"#ff0000"}
      }},
     {"data":{"name":"ln"},"transform":[{"filter":"datum.pan=='R' && (datum.sty=='band' || datum.sty=='mag' || datum.sty=='pink' || datum.sty=='olive')"}],
      "mark":{"type":"line","clip":true},
      "encoding":{
       "x":{"field":"x","type":"quantitative"},
       "y":{"field":"p","type":"quantitative"},
       "color":{"field":"sty","type":"nominal","scale":{"domain":["band","mag","pink","olive"],"range":["#5f55ee","#ff3cff","#ff4f86","#9acd32"]},"legend":null},
       "strokeWidth":{"condition":[{"test":"datum.sty=='band'","value":7},{"test":"datum.sty=='mag'","value":1.3}],"value":1},
       "opacity":{"condition":{"test":"datum.sty=='band'","value":0.7},"value":1},
       "detail":{"field":"id"},
       "order":{"field":"k","type":"quantitative"}
      }},
     {"data":{"name":"lv"},"transform":[{"filter":"datum.pan!='L' && isValid(datum.name)"}],
      "mark":{"type":"text","align":"left","baseline":"bottom","fontSize":7,"color":"#666","clip":true},
      "encoding":{
       "x":{"datum":0.35,"type":"quantitative"},
       "y":{"field":"p","type":"quantitative"},
       "text":{"field":"name"}
      }},
     {"data":{"name":"lv"},"transform":[{"filter":"datum.pan!='L' && isValid(datum.note)"}],
      "mark":{"type":"text","align":"right","baseline":"bottom","fontSize":7,"clip":true},
      "encoding":{
       "x":{"datum":48.35,"type":"quantitative"},
       "y":{"field":"p","type":"quantitative"},
       "text":{"field":"note"},
       "color":{"field":"nc","type":"nominal","scale":{"domain":["b","m"],"range":["#5252ff","#ff3cff"]},"legend":null}
      }},
     {"data":{"values":[
       {"p":12301,"t":"— 12301.00  Prev Day High","pk":"b"},
       {"p":12146.5,"t":"— 12146.50  Prev Day Low","pk":"b"},
       {"p":12081.5,"t":"— 12081.50  Prev H4 High","pk":"g"},
       {"p":12049.5,"t":"— 12049.50  Prev H1 High","pk":"r"},
       {"p":12034,"t":"— 12034.00  Prev H1 Low","pk":"r"},
       {"p":11990,"t":"— 11990.00  Prev H4 Low","pk":"g"}]},
      "mark":{"type":"text","align":"left","baseline":"middle","fontSize":7.5},
      "encoding":{
       "x":{"datum":37.5,"type":"quantitative"},
       "y":{"field":"p","type":"quantitative"},
       "text":{"field":"t"},
       "color":{"field":"pk","type":"nominal","scale":{"domain":["b","g","r"],"range":["#4a4af0","#3a9a3a","#ff4040"]},"legend":null}
      }},
     {"data":{"name":"bl"},"transform":[{"filter":"datum.pan=='R'"}],
      "mark":{"type":"text","fontSize":8.5,"baseline":"middle"},
      "encoding":{
       "x":{"field":"x","type":"quantitative"},
       "y":{"field":"p","type":"quantitative"},
       "text":{"field":"t"},
       "color":{"field":"bk","type":"nominal","scale":{"domain":["num","nz"],"range":["#f2f2f2","#5e5e5e"]},"legend":null}
      }},
     {"data":{"values":[{"x":3.65,"p":12289.8,"t":"H4 Upper xMulti TPs"}]},
      "mark":{"type":"text","angle":18,"fontSize":7.5,"color":"#555","clip":true},
      "encoding":{"x":{"field":"x","type":"quantitative"},"y":{"field":"p","type":"quantitative"},"text":{"field":"t"}}},
     {"data":{"values":[{"x":23.4,"p":12261.8,"t":"H1 TL Upper x2TPs"}]},
      "mark":{"type":"text","angle":23,"fontSize":7.5,"color":"#555","clip":true},
      "encoding":{"x":{"field":"x","type":"quantitative"},"y":{"field":"p","type":"quantitative"},"text":{"field":"t"}}},
     {"data":{"values":[{"x":7.8,"p":12186.8,"t":"H1 Lower and Upper TL xMultiple TPs (BROKEN)"}]},
      "mark":{"type":"text","angle":-13,"fontSize":7.5,"color":"#555","clip":true},
      "encoding":{"x":{"field":"x","type":"quantitative"},"y":{"field":"p","type":"quantitative"},"text":{"field":"t"}}},
     {"data":{"values":[{"x":22.0,"p":12202.0,"t":"(false break)  H1 TL Lower"}]},
      "mark":{"type":"text","angle":-30,"fontSize":7.5,"color":"#555","clip":true},
      "encoding":{"x":{"field":"x","type":"quantitative"},"y":{"field":"p","type":"quantitative"},"text":{"field":"t"}}},
     {"data":{"values":[{"x":16,"p":11983.2,"t":"FUT Close"},{"x":24.9,"p":11983.2,"t":"FUT OPEN"},{"x":26,"p":11983.2,"t":"CASH Open"}]},
      "mark":{"type":"text","angle":-90,"align":"left","baseline":"bottom","fontSize":6.5,"color":"#555","clip":true},
      "encoding":{"x":{"field":"x","type":"quantitative"},"y":{"field":"p","type":"quantitative"},"text":{"field":"t"}}},
     {"data":{"values":[{"x":0.35,"p":12300.4,"t":"▼ DE30,H1  12041.30 12042.30 12031.70 12038.30"},{"x":0.6,"p":12294.3,"t":"Copyright © 2016, Yannick Deubel, quivofx.com"}]},
      "mark":{"type":"text","align":"left","baseline":"middle","fontSize":7,"color":"#333"},
      "encoding":{"x":{"field":"x","type":"quantitative"},"y":{"field":"p","type":"quantitative"},"text":{"field":"t"}}},
     {"data":{"name":"tg"},"transform":[{"filter":"datum.pan=='R'"}],
      "mark":{"type":"tick","orient":"horizontal","size":28,"thickness":10,"opacity":1},
      "encoding":{
       "x":{"datum":50.15,"type":"quantitative"},
       "y":{"field":"p","type":"quantitative"},
       "color":{"field":"tc","type":"nominal","scale":{"domain":["g","db","k","pu","mg","lb","r","or"],"range":["#3cb35a","#1414e6","#0a0a0a","#7a3bd4","#ff10ff","#3b9cf2","#ff1414","#ff5e14"]},"legend":null}
      }},
     {"data":{"name":"tg"},"transform":[{"filter":"datum.pan=='R'"}],
      "mark":{"type":"text","fontSize":7,"color":"#ffffff","baseline":"middle"},
      "encoding":{
       "x":{"datum":50.15,"type":"quantitative"},
       "y":{"field":"p","type":"quantitative"},
       "text":{"field":"t"}
      }}
    ]
   },
   {
    "width":469,"height":94,
    "layer":[
     {"data":{"name":"mc"},
      "mark":{"type":"rule","color":"#9a9a9a","strokeWidth":1.5},
      "encoding":{
       "x":{"field":"x","type":"quantitative","title":null,"scale":{"domain":[0,48.6],"nice":false,"zero":false},
        "axis":{"orient":"bottom","values":[0,4,8,12,16,20,24,28,32,36],"tickCount":40,"labelExpr":"['17 May 2019','17 May 10:00','17 May 14:00','17 May 18:00','17 May 22:00','20 May 04:00','20 May 08:00','20 May 12:00','20 May 16:00','20 May 20:00'][round(datum.value/4)]","labelAlign":"left","labelBaseline":"top","labelFontSize":5.8,"labelColor":"#333","labelPadding":3,"tickSize":3,"tickColor":"#666","domain":false,"grid":false,"labelOverlap":false,"labelFlush":false,"title":null}},
       "y":{"field":"h","type":"quantitative","title":null,"scale":{"domain":[-54.822,70.311],"nice":false,"zero":false},
        "axis":{"orient":"right","values":[-54.822,0,70.311],"labelExpr":"datum.value == 0 ? '0.00' : format(datum.value, '.3f')","labelFontSize":6.8,"labelColor":"#333","labelPadding":2,"tickSize":3,"tickColor":"#666","domain":false,"grid":false,"labelOverlap":false,"title":null}},
       "y2":{"datum":0}
      }},
     {"data":{"name":"sg"},
      "mark":{"type":"line","color":"#ff6b6b","strokeWidth":1,"strokeDash":[2,2]},
      "encoding":{
       "x":{"field":"x","type":"quantitative"},
       "y":{"field":"s","type":"quantitative"}
      }},
     {"data":{"name":"vl"},"transform":[{"filter":"datum.pan=='R'"}],
      "mark":{"type":"rule","strokeWidth":1.5},
      "encoding":{
       "x":{"field":"x","type":"quantitative"},
       "color":{"field":"vs","type":"nominal","scale":{"domain":["fut","cash"],"range":["#b5b5b5","#ffc58f"]},"legend":null}
      }},
     {"data":{"values":[{"x":16,"v":-53,"t":"FUT Close"},{"x":24.9,"v":-53,"t":"FUT OPEN"},{"x":26,"v":-53,"t":"CASH Open"}]},
      "mark":{"type":"text","angle":-90,"align":"left","baseline":"bottom","fontSize":6.5,"color":"#555","clip":true},
      "encoding":{"x":{"field":"x","type":"quantitative"},"y":{"field":"v","type":"quantitative"},"text":{"field":"t"}}},
     {"data":{"values":[{"x":0.5,"v":63.5,"t":"MACD(12,26,9) -49.134 -39.065"}]},
      "mark":{"type":"text","align":"left","baseline":"middle","fontSize":7,"color":"#333"},
      "encoding":{"x":{"field":"x","type":"quantitative"},"y":{"field":"v","type":"quantitative"},"text":{"field":"t"}}}
    ]
   }
  ]
 }
]
}
